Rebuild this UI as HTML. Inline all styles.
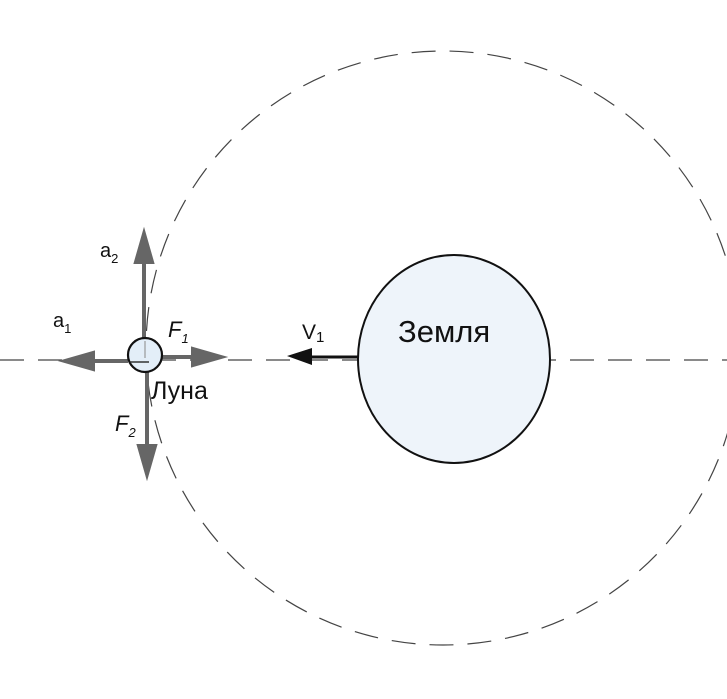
<!DOCTYPE html>
<html><head><meta charset="utf-8"><style>body{margin:0;background:#fff}svg{display:block}</style></head>
<body>
<svg width="727" height="699" viewBox="0 0 727 699" xmlns="http://www.w3.org/2000/svg" font-family="Liberation Sans, sans-serif">
<circle cx="443" cy="348" r="297" fill="none" stroke="#444" stroke-width="1.2" stroke-dasharray="24,14"/>
<line x1="0" y1="360" x2="727" y2="360" stroke="#444" stroke-width="1.2" stroke-dasharray="24,14"/>
<ellipse cx="454" cy="359" rx="96" ry="104" fill="#eef4fa" stroke="#111" stroke-width="2"/>
<text x="398" y="342" font-size="31" fill="#111">Земля</text>
<g stroke="#666" stroke-width="4" fill="#666">
<line x1="144" y1="340" x2="144" y2="262"/><polygon points="144,234 136,262 152,262"/>
<line x1="128" y1="361" x2="92" y2="361"/><polygon points="65,361 93,353 93,369"/>
<line x1="162" y1="357" x2="194" y2="357"/><polygon points="221,357 193,349 193,365"/>
<line x1="147" y1="372" x2="147" y2="448"/><polygon points="147,474 139,446 155,446"/>
</g>
<line x1="358" y1="357" x2="310" y2="357" stroke="#111" stroke-width="3"/>
<polygon points="287,356 312,348 312,365" fill="#111"/>
<circle cx="145" cy="355" r="17" fill="#e3eef8" stroke="#111" stroke-width="2.2"/>
<line x1="145" y1="341" x2="145" y2="358" stroke="#999" stroke-width="1.2"/>
<line x1="130" y1="362" x2="149" y2="362" stroke="#333" stroke-width="1.5"/>
<g fill="#111">
<text x="100" y="257" font-size="20">a<tspan font-size="13" dy="6">2</tspan></text>
<text x="53" y="327" font-size="20">a<tspan font-size="13" dy="6">1</tspan></text>
<text x="168" y="337" font-size="22" font-style="italic">F<tspan font-size="13" dy="6">1</tspan></text>
<text x="115" y="431" font-size="22" font-style="italic">F<tspan font-size="13" dy="6">2</tspan></text>
<text x="151" y="399" font-size="25">Луна</text>
<text x="302" y="339" font-size="21">V<tspan font-size="15" dy="3">1</tspan></text>
</g>
</svg>
</body></html>
